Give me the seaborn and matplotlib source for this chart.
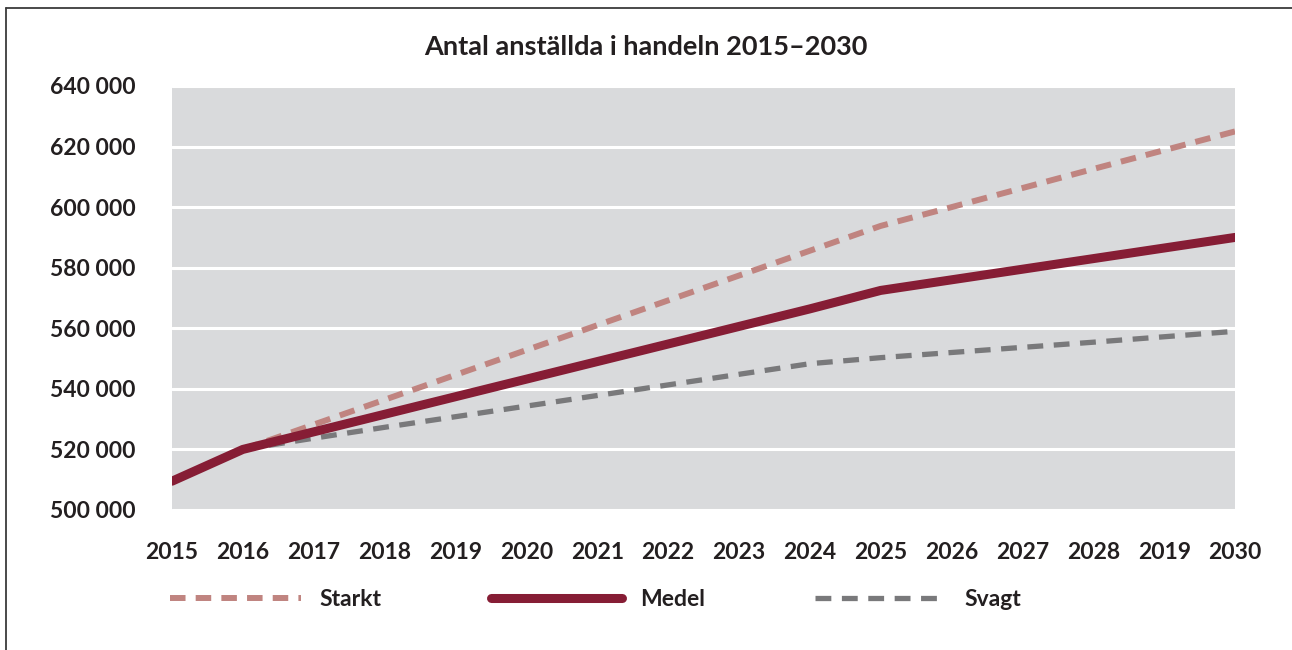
import matplotlib.pyplot as plt
import seaborn as sns
import pandas as pd
from matplotlib.lines import Line2D

# chart data
years = ["2015", "2016", "2017", "2018", "2019", "2020", "2021", "2022",
         "2023", "2024", "2025", "2026", "2027", "2028", "2019", "2030"]
starkt = [None, 520000, 528200, 536400, 544600, 552800, 561000, 569200,
          577400, 585600, 593800, 600000, 606300, 612600, 618800, 625000]
medel = [509500, 520000, 525800, 531600, 537400, 543200, 549000, 554800,
         560600, 566400, 572500, 576000, 579500, 583000, 586500, 590000]
svagt = [None, 520000, 523700, 527300, 530800, 534300, 537800, 541300,
         544800, 548300, 550300, 552000, 553700, 555400, 557200, 559000]
y_ticks = [500000, 520000, 540000, 560000, 580000, 600000, 620000, 640000]

ROSE = "#c08480"
MAROON = "#861d35"
GREY = "#79797b"

sns.set_style("white")
plt.rcParams["font.family"] = ["Lato", "DejaVu Sans"]
plt.rcParams["font.weight"] = "bold"

df = pd.DataFrame({
    "pos": range(len(years)),
    "Starkt": pd.to_numeric(pd.Series(starkt), errors="coerce"),
    "Medel": medel,
    "Svagt": pd.to_numeric(pd.Series(svagt), errors="coerce"),
})

fig = plt.figure(figsize=(12.92, 6.5), dpi=100)
ax = fig.add_axes([0.1331, 0.2154, 0.8228, 0.6523])
ax.set_facecolor("#d9dadc")

sns.lineplot(data=df, x="pos", y="Starkt", ax=ax, color=ROSE,
             linewidth=4.3, linestyle=(0, (2.6, 1.7)), label="Starkt")
sns.lineplot(data=df, x="pos", y="Svagt", ax=ax, color=GREY,
             linewidth=3.8, linestyle=(0, (3.0, 2.0)), label="Svagt")
sns.lineplot(data=df, x="pos", y="Medel", ax=ax, color=MAROON,
             linewidth=6.5, label="Medel")

ax.set_xlim(0, len(years) - 1)
ax.set_ylim(500000, 640000)
ax.set_xticks(range(len(years)))
ax.set_xticklabels(years)
ax.set_yticks(y_ticks)
ax.yaxis.set_major_formatter(plt.FuncFormatter(
    lambda v, p: f"{int(v):,}".replace(",", " ")
))
ax.tick_params(axis="both", length=0, labelsize=16.5, colors="#231f20")
ax.tick_params(axis="x", pad=23)
ax.tick_params(axis="y", pad=26)
for lab in ax.get_xticklabels() + ax.get_yticklabels():
    lab.set_fontweight("bold")
ax.set_xlabel("")
ax.set_ylabel("")
ax.grid(axis="y", color="white", linewidth=2.2)
ax.grid(axis="x", visible=False)
ax.set_axisbelow(True)
for s in ax.spines.values():
    s.set_visible(False)

# legend below the plot, order Starkt / Medel / Svagt
handles, labels = ax.get_legend_handles_labels()
order = [labels.index(n) for n in ["Starkt", "Medel", "Svagt"]]
ax.get_legend().remove()
fig.legend([handles[i] for i in order], [labels[i] for i in order],
           loc="center left", bbox_to_anchor=(0.116, 0.077), ncol=3,
           frameon=False, handlelength=5.7, handletextpad=0.8,
           columnspacing=4.8, prop={"size": 16.5, "weight": "bold"},
           labelcolor="#231f20")

fig.text(0.5, 0.928, "Antal anställda i handeln 2015\u20132030",
         ha="center", va="center", fontsize=19.5, fontweight="bold",
         color="#231f20")

# outer frame (top and left edge)
fig.add_artist(Line2D([0.0046, 1.0], [0.988, 0.988], color="#3a3a3a",
                      linewidth=1.3, transform=fig.transFigure))
fig.add_artist(Line2D([0.0046, 0.0046], [0.0, 0.988], color="#3a3a3a",
                      linewidth=1.3, transform=fig.transFigure))

plt.savefig("out.png", dpi=100)
